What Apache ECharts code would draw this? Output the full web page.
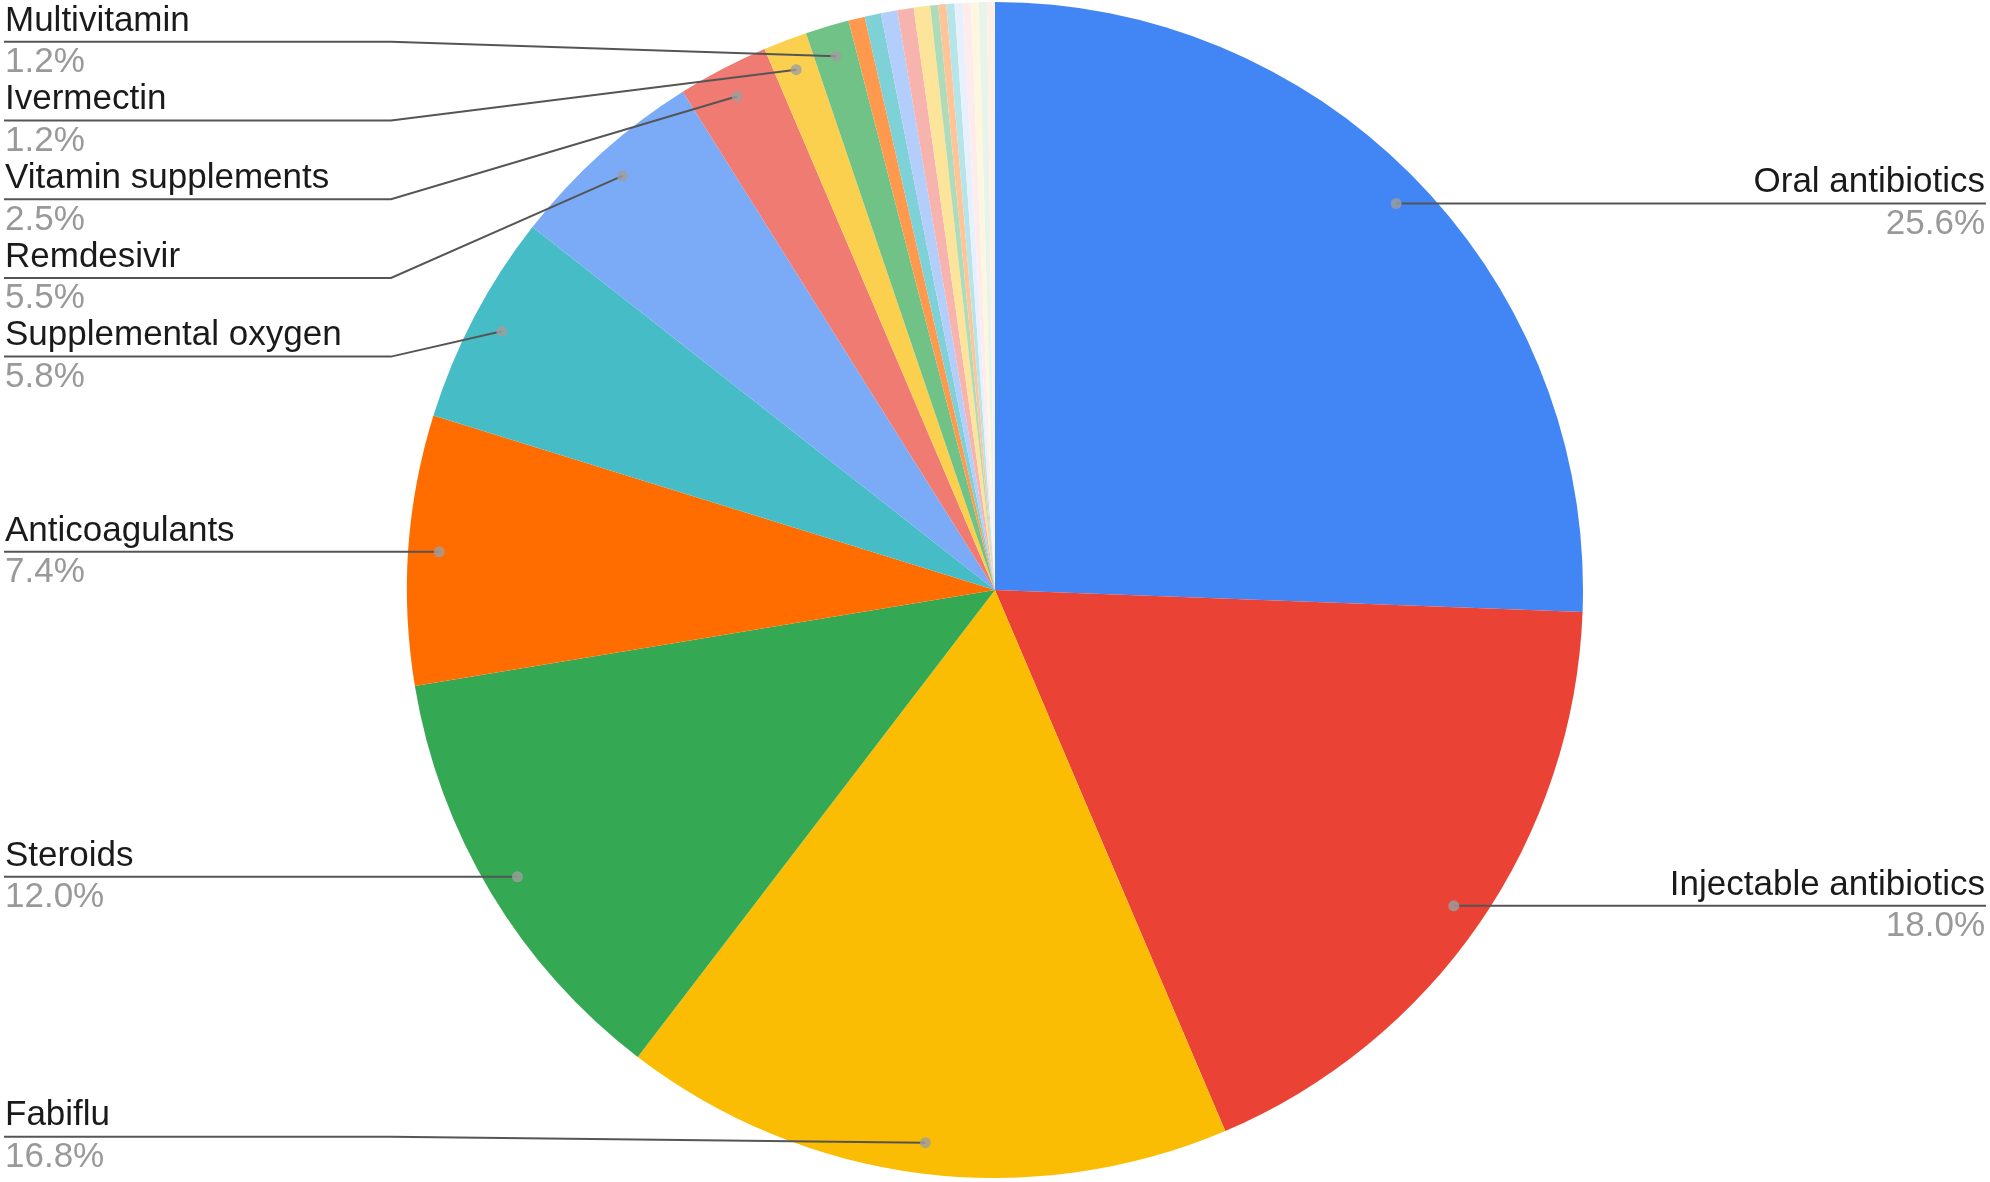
<!DOCTYPE html>
<html>
<head>
<meta charset="utf-8">
<style>
  html, body { margin: 0; padding: 0; background: #fff; }
  #chart { width: 1990px; height: 1182px; }
</style>
<script src="https://cdn.jsdelivr.net/npm/echarts@6/dist/echarts.min.js"></script>
</head>
<body>
<div id="chart"></div>
<script>
// slices, clockwise from 12 o'clock (values in %)
const names = [
  'Oral antibiotics', 'Injectable antibiotics', 'Fabiflu', 'Steroids',
  'Anticoagulants', 'Supplemental oxygen', 'Remdesivir', 'Vitamin supplements',
  'Ivermectin', 'Multivitamin',
  'Other 1', 'Other 2', 'Other 3', 'Other 4', 'Other 5', 'Other 6', 'Other 7',
  'Other 8', 'Other 9', 'Other 10', 'Other 11', 'Other 12', 'Other 13',
];
const values = [
  25.6, 18.0, 16.8, 12.0, 7.4, 5.8, 5.5, 2.5, 1.2, 1.2,
  0.45, 0.45, 0.45, 0.45, 0.45, 0.22, 0.22, 0.22, 0.22, 0.22, 0.22, 0.22, 0.22,
];
const colors = [
  '#4285f4', '#ea4335', '#fbbc04', '#34a853', '#ff6d01', '#46bdc6', '#7baaf7',
  '#f07b72', '#fcd04f', '#71c287', '#ff994d', '#7ed1d7', '#b3cefb', '#f7b4ae',
  '#fde49b', '#aedcba', '#ffc599', '#b5e5e8', '#e8f0fe', '#fdeceb', '#fef7e0',
  '#e6f4ea', '#fff0e6',
];

const CENTER = [995, 590];
const RADIUS = 588;
const LABEL_R = 557; // where the leader lines start (the grey dots)
const BEND = 391; // leader lines turn horizontal this far from the edge
const MIN_LABEL_ANGLE = 3;
const FONT = "'Liberation Sans', Arial, sans-serif";

const total = values.reduce((a, b) => a + b, 0);

// dots at the middle of each labelled slice
const dotData = [];
let acc = 0;
values.forEach((v) => {
  if ((v / total) * 360 >= MIN_LABEL_ANGLE) {
    dotData.push([LABEL_R, acc + v / 2]);
  }
  acc += v;
});

// labels against the top / bottom edge sit a bit outward, like the original
const labelShift = { Multivitamin: 15, Fabiflu: -6 };

const chart = echarts.init(document.getElementById('chart'));

const option = {
  animation: false,
  backgroundColor: '#ffffff',
  color: colors,
  polar: { center: CENTER, radius: RADIUS },
  angleAxis: {
    type: 'value', min: 0, max: total, startAngle: 90, clockwise: true, show: false,
  },
  radiusAxis: { type: 'value', min: 0, max: RADIUS, show: false },
  series: [
    {
      type: 'pie',
      silent: true,
      z: 2,
      center: CENTER,
      radius: RADIUS,
      startAngle: 90,
      label: { show: false },
      labelLine: { show: false },
      data: names.map((n, i) => ({ name: n, value: values[i] })),
    },
    {
      type: 'pie',
      silent: true,
      z: 5,
      center: CENTER,
      radius: LABEL_R,
      startAngle: 90,
      percentPrecision: 1,
      minShowLabelAngle: MIN_LABEL_ANGLE,
      avoidLabelOverlap: true,
      itemStyle: { color: 'rgba(0,0,0,0)' },
      label: {
        position: 'outer',
        alignTo: 'edge',
        edgeDistance: 5,
        formatter: (p) => `{n|${p.name}}\n{p|${p.percent.toFixed(1)}%}`,
        rich: {
          n: { fontFamily: FONT, fontSize: 35, color: '#1a1a1a', lineHeight: 41.7 },
          p: { fontFamily: FONT, fontSize: 35, color: '#999999', lineHeight: 41.7 },
        },
      },
      labelLine: {
        show: true,
        length: 0,
        length2: 0,
        lineStyle: { color: '#555555', width: 2 },
      },
      labelLayout: (params) => {
        const pts = params.labelLinePoints;
        if (!pts) return {};
        const w = chart.getWidth();
        const y = pts[pts.length - 1][1];
        const left = pts[pts.length - 1][0] < CENTER[0];
        const bend = left ? BEND : w - BEND;
        const edge = left ? 4 : w - 4;
        return { labelLinePoints: [pts[0], [bend, y], [edge, y]] };
      },
      data: names.map((n, i) => {
        const item = { name: n, value: values[i] };
        if (labelShift[n]) item.labelLine = { length: labelShift[n] };
        return item;
      }),
    },
    {
      type: 'scatter',
      coordinateSystem: 'polar',
      silent: true,
      z: 10,
      symbolSize: 11,
      itemStyle: { color: '#9e9e9e' },
      data: dotData,
    },
  ],
};

chart.setOption(option);
</script>
</body>
</html>
